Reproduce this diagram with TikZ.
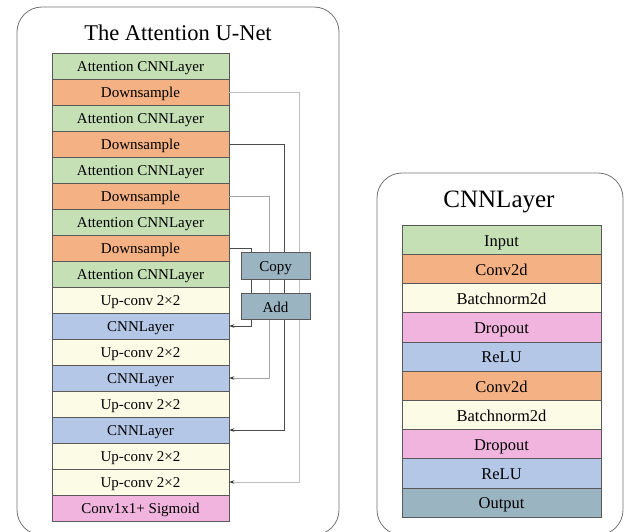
\documentclass[tikz,border=0pt]{standalone}
\usepackage{fontspec}
\setmainfont{Liberation Serif}
\usepackage{xcolor}
\usepackage{tikz}
\usetikzlibrary{arrows.meta}

\definecolor{attgreen}{HTML}{C5E0B4}
\definecolor{downorange}{HTML}{F4B183}
\definecolor{upcream}{HTML}{FCFBE6}
\definecolor{cnnblue}{HTML}{B4C7E7}
\definecolor{droppink}{HTML}{F0B4DE}
\definecolor{outslate}{HTML}{9BB4C2}

\begin{document}
\begin{tikzpicture}[x=1pt,y=-1pt,
    panel/.style={draw=black!55,line width=0.8pt,rounded corners=25pt},
    blk/.style={draw=black!65,line width=0.6pt,minimum width=177pt,minimum height=26pt,inner sep=0pt,text height=12pt,text depth=1pt,font=\fontsize{15}{16}\selectfont},
    rblk/.style={draw=black!65,line width=0.6pt,minimum width=199pt,minimum height=29.2pt,inner sep=0pt,text height=13.5pt,text depth=0.7pt,font=\fontsize{16.5}{18}\selectfont},
    tag/.style={draw=black!65,fill=outslate,line width=0.6pt,minimum width=69pt,minimum height=26.5pt,inner sep=0pt,text height=12pt,text depth=1pt,font=\fontsize{15}{16}\selectfont},
    skip/.style={line width=0.8pt,-{Stealth[length=5pt,width=3.5pt,color=black!80]}},
    skiplight/.style={skip,draw=black!25},
    skipmid/.style={skip,draw=black!35},
    skipdark/.style={skip,draw=black!70}]
                    \useasboundingbox (0,0) rectangle (640,531);
                    \clip (0,0) rectangle (640,531);

                    % panels
                    \draw[panel] (17,7) rectangle (339,535);
                    \draw[panel] (377,173) rectangle (623,535);
                    \node[font=\fontsize{22.5}{26}\selectfont] (T1) at (178,33) {The Attention U-Net};
                    \node[font=\fontsize{25}{28}\selectfont] (T2) at (499,202) {CNNLayer};

                    % the Attention U-Net
                    \node[blk,fill=attgreen] (L0) at (140.5,66) {Attention CNNLayer};
                    \node[blk,fill=downorange] (L1) at (140.5,92) {Downsample};
                    \node[blk,fill=attgreen] (L2) at (140.5,118) {Attention CNNLayer};
                    \node[blk,fill=downorange] (L3) at (140.5,144) {Downsample};
                    \node[blk,fill=attgreen] (L4) at (140.5,170) {Attention CNNLayer};
                    \node[blk,fill=downorange] (L5) at (140.5,196) {Downsample};
                    \node[blk,fill=attgreen] (L6) at (140.5,222) {Attention CNNLayer};
                    \node[blk,fill=downorange] (L7) at (140.5,248) {Downsample};
                    \node[blk,fill=attgreen] (L8) at (140.5,274) {Attention CNNLayer};
                    \node[blk,fill=upcream] (L9) at (140.5,300) {Up-conv 2×2};
                    \node[blk,fill=cnnblue] (L10) at (140.5,326) {CNNLayer};
                    \node[blk,fill=upcream] (L11) at (140.5,352) {Up-conv 2×2};
                    \node[blk,fill=cnnblue] (L12) at (140.5,378) {CNNLayer};
                    \node[blk,fill=upcream] (L13) at (140.5,404) {Up-conv 2×2};
                    \node[blk,fill=cnnblue] (L14) at (140.5,430) {CNNLayer};
                    \node[blk,fill=upcream] (L15) at (140.5,456) {Up-conv 2×2};
                    \node[blk,fill=upcream] (L16) at (140.5,482) {Up-conv 2×2};
                    \node[blk,fill=droppink] (L17) at (140.5,508) {Conv1x1+ Sigmoid};

                    \draw[skiplight] (L1.east) -- ++(70,0) |- (L16.east);
                    \draw[skipdark] (L3.east) -- ++(55,0) |- (L14.east);
                    \draw[skipmid] (L5.east) -- ++(40,0) |- (L12.east);
                    \draw[skipdark] (L7.east) -- ++(22,0) |- (L10.east);

                    \node[tag] (Copy) at (275.5,266) {Copy};
                    \node[tag] (Add) at (275.5,306.5) {Add};

                    % the CNNLayer
                    \node[rblk,fill=attgreen] (R0) at (501.5,239.6) {Input};
                    \node[rblk,fill=downorange] (R1) at (501.5,268.8) {Conv2d};
                    \node[rblk,fill=upcream] (R2) at (501.5,298) {Batchnorm2d};
                    \node[rblk,fill=droppink] (R3) at (501.5,327.2) {Dropout};
                    \node[rblk,fill=cnnblue] (R4) at (501.5,356.4) {ReLU};
                    \node[rblk,fill=downorange] (R5) at (501.5,385.6) {Conv2d};
                    \node[rblk,fill=upcream] (R6) at (501.5,414.8) {Batchnorm2d};
                    \node[rblk,fill=droppink] (R7) at (501.5,444) {Dropout};
                    \node[rblk,fill=cnnblue] (R8) at (501.5,473.2) {ReLU};
                    \node[rblk,fill=outslate] (R9) at (501.5,502.4) {Output};
                \end{tikzpicture}
\end{document}
